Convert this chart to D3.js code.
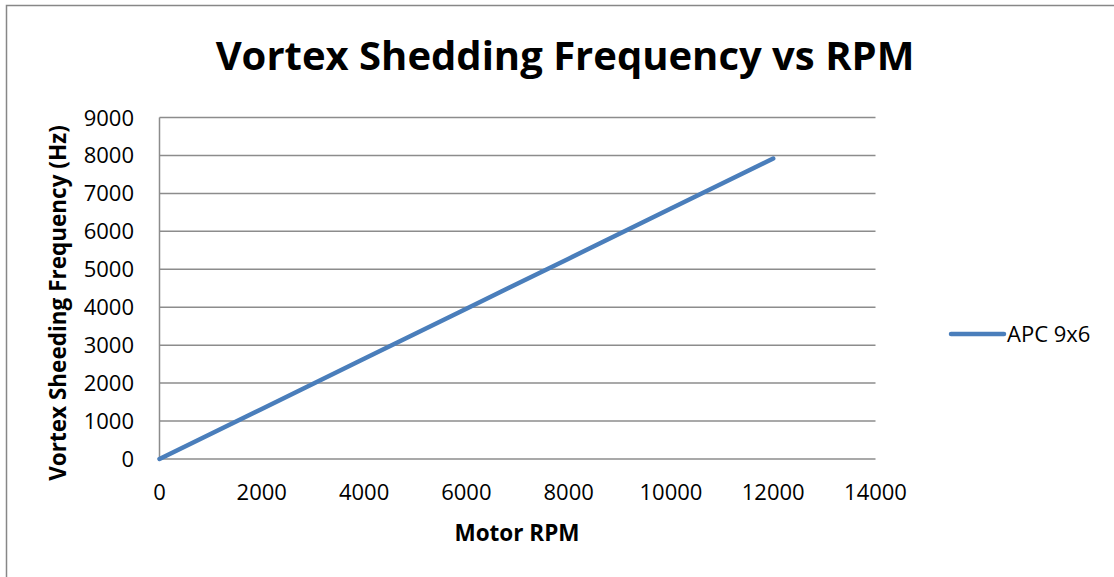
<!DOCTYPE html>
<html>
<head>
<meta charset="utf-8">
<script src="https://cdn.jsdelivr.net/npm/d3@7"></script>
<style>
  body { margin: 0; background: #fff; }
  svg { display: block; font-family: "Open Sans", sans-serif; }
</style>
</head>
<body>
<div id="chart"></div>
<script>
// data
const rpm = [0, 2000, 4000, 6000, 8000, 10000, 12000]
const frequency = [0, 1320, 2640, 3960, 5280, 6600, 7920]
const seriesName = "APC 9x6"
const xTicks = [0, 2000, 4000, 6000, 8000, 10000, 12000, 14000]
const yTicks = [0, 1000, 2000, 3000, 4000, 5000, 6000, 7000, 8000, 9000]

const width = 1114, height = 577
const plot = { left: 159.5, right: 875.5, top: 117.5, bottom: 459 }

const svg = d3.select("#chart").append("svg")
    .attr("width", width)
    .attr("height", height)

// chart border (runs off the right and bottom edges)
svg.append("rect")
    .attr("x", 6.5).attr("y", 5.5)
    .attr("width", width + 20).attr("height", height + 20)
    .attr("fill", "#fff")
    .attr("stroke", "#878787")
    .attr("stroke-width", 1.5)

const x = d3.scaleLinear().domain([0, 14000]).range([plot.left, plot.right])
const y = d3.scaleLinear().domain([0, 9000]).range([plot.bottom, plot.top])

// gridlines
svg.append("g").selectAll("line")
    .data(yTicks)
    .join("line")
    .attr("x1", plot.left).attr("x2", plot.right)
    .attr("y1", d => y(d)).attr("y2", d => y(d))
    .attr("stroke", "#8c8c8c")
    .attr("stroke-width", 1.5)

// y axis line
svg.append("line")
    .attr("x1", plot.left).attr("x2", plot.left)
    .attr("y1", plot.top).attr("y2", plot.bottom)
    .attr("stroke", "#8c8c8c")
    .attr("stroke-width", 1.5)

// y tick labels
svg.append("g").selectAll("text")
    .data(yTicks)
    .join("text")
    .attr("x", 134)
    .attr("y", d => y(d) + 8)
    .attr("text-anchor", "end")
    .style("font-size", "22px")
    .style("fill", "#000")
    .text(d => d)

// x tick labels
svg.append("g").selectAll("text")
    .data(xTicks)
    .join("text")
    .attr("x", d => x(d))
    .attr("y", 500)
    .attr("text-anchor", "middle")
    .style("font-size", "22px")
    .style("fill", "#000")
    .text(d => d)

// series line
const line = d3.line()
    .x(d => x(d[0]))
    .y(d => y(d[1]))

svg.append("path")
    .datum(d3.zip(rpm, frequency))
    .attr("d", line)
    .attr("fill", "none")
    .attr("stroke", "#4a7ebb")
    .attr("stroke-width", 4.5)
    .attr("stroke-linecap", "round")
    .attr("stroke-linejoin", "round")

// title
svg.append("text")
    .attr("x", 565)
    .attr("y", 70)
    .attr("text-anchor", "middle")
    .style("font-size", "40px")
    .style("font-weight", "bold")
    .text("Vortex Shedding Frequency vs RPM")

// axis titles
svg.append("text")
    .attr("x", 517)
    .attr("y", 541)
    .attr("text-anchor", "middle")
    .style("font-size", "22.5px")
    .style("font-weight", "bold")
    .text("Motor RPM")

svg.append("text")
    .attr("transform", "translate(66,303) rotate(-90)")
    .attr("text-anchor", "middle")
    .style("font-size", "22.5px")
    .style("font-weight", "bold")
    .text("Vortex Sheeding Frequency (Hz)")

// legend
const legend = svg.append("g").attr("transform", "translate(950,334)")
legend.append("line")
    .attr("x1", 1).attr("x2", 54)
    .attr("stroke", "#4a7ebb")
    .attr("stroke-width", 4.5)
    .attr("stroke-linecap", "round")
legend.append("text")
    .attr("x", 57)
    .attr("y", 8)
    .style("font-size", "22px")
    .text(seriesName)
</script>
</body>
</html>
